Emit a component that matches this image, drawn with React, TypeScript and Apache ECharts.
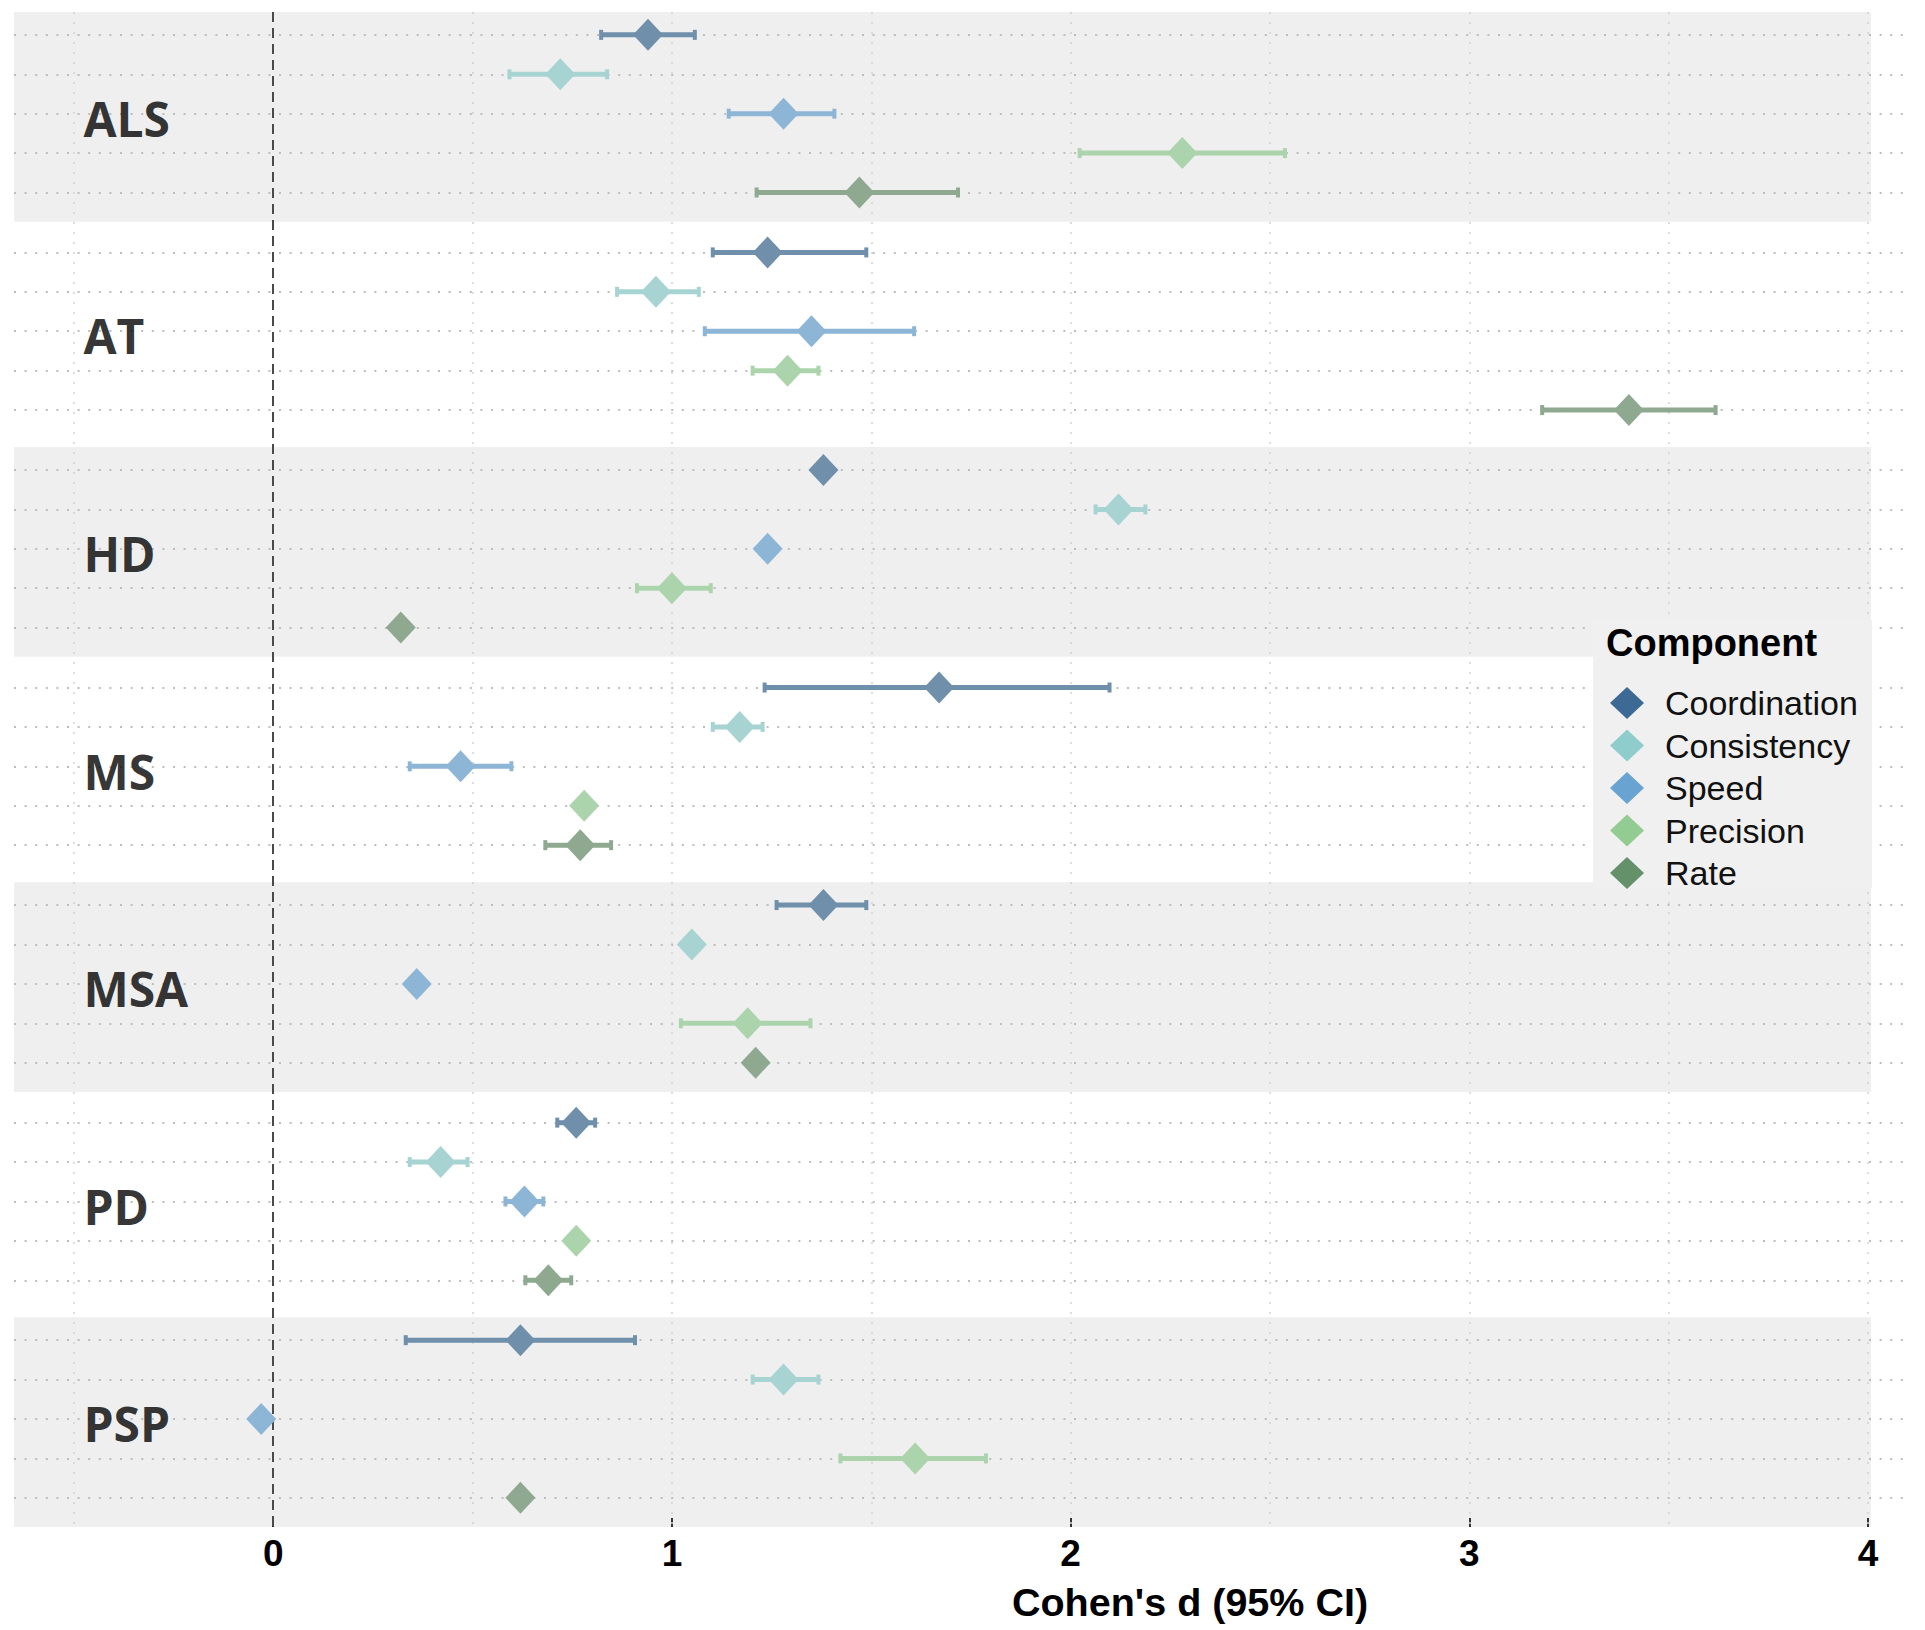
import React, { useEffect, useRef } from "react";
import * as echarts from "echarts";

// ---------- data ----------
const DISEASES = ["ALS", "AT", "HD", "MS", "MSA", "PD", "PSP"];
const COMPONENTS = ["Coordination", "Consistency", "Speed", "Precision", "Rate"];

// Cohen's d and 95% CI per component, one value per disease (order of DISEASES)
const coordinationD = [0.94, 1.24, 1.38, 1.67, 1.38, 0.76, 0.62];
const coordinationLo = [0.82, 1.1, null, 1.23, 1.26, 0.71, 0.33];
const coordinationHi = [1.06, 1.49, null, 2.1, 1.49, 0.81, 0.91];

const consistencyD = [0.72, 0.96, 2.12, 1.17, 1.05, 0.42, 1.28];
const consistencyLo = [0.59, 0.86, 2.06, 1.1, null, 0.34, 1.2];
const consistencyHi = [0.84, 1.07, 2.19, 1.23, null, 0.49, 1.37];

const speedD = [1.28, 1.35, 1.24, 0.47, 0.36, 0.63, -0.03];
const speedLo = [1.14, 1.08, null, 0.34, null, 0.58, null];
const speedHi = [1.41, 1.61, null, 0.6, null, 0.68, null];

const precisionD = [2.28, 1.29, 1.0, 0.78, 1.19, 0.76, 1.61];
const precisionLo = [2.02, 1.2, 0.91, null, 1.02, null, 1.42];
const precisionHi = [2.54, 1.37, 1.1, null, 1.35, null, 1.79];

const rateD = [1.47, 3.4, 0.32, 0.77, 1.21, 0.69, 0.62];
const rateLo = [1.21, 3.18, null, 0.68, null, 0.63, null];
const rateHi = [1.72, 3.62, null, 0.85, null, 0.75, null];

const X_TICKS = [0, 1, 2, 3, 4];
const X_GRID = [-0.5, 0.5, 1, 1.5, 2, 2.5, 3, 3.5, 4];

// ---------- styling / layout ----------
const MARK_COLORS = ["#6f8fab", "#a7d3d3", "#8db5d6", "#acd4ac", "#8ea98f"];
const LEGEND_COLORS = ["#3c6a94", "#8fcccc", "#69a3d1", "#92cc92", "#64906a"];
const GROUP_STEP = 5.52; // rows per facet panel incl. gap
const BAND_TOP = -0.58;
const BAND_BOTTOM = 4.74;
const X_MIN = -0.65;
const X_MAX = 4.095;
const BAND_RIGHT = 4.007;

const D_SERIES = [coordinationD, consistencyD, speedD, precisionD, rateD];
const LO_SERIES = [coordinationLo, consistencyLo, speedLo, precisionLo, rateLo];
const HI_SERIES = [coordinationHi, consistencyHi, speedHi, precisionHi, rateHi];

const rowY = (g: number, r: number) => g * GROUP_STEP + r;

export default function App() {
  const ref = useRef<HTMLDivElement>(null);

  useEffect(() => {
    if (!ref.current) return;
    const chart = echarts.init(ref.current, null, { renderer: "svg" });

    const bands: any[] = [];
    DISEASES.forEach((_, g) => {
      if (g % 2 === 0) {
        bands.push([
          { xAxis: X_MIN, yAxis: g * GROUP_STEP + BAND_TOP },
          { xAxis: BAND_RIGHT, yAxis: g * GROUP_STEP + BAND_BOTTOM },
        ]);
      }
    });

    const hLines: any[] = [];
    DISEASES.forEach((_, g) => {
      COMPONENTS.forEach((__, r) => {
        hLines.push({ yAxis: rowY(g, r) });
      });
    });
    const vLines: any[] = X_GRID.map((v) => ({ xAxis: v }));

    const series: any[] = [
      {
        type: "line",
        name: "_bands",
        data: [],
        silent: true,
        markArea: {
          silent: true,
          z: 0,
          itemStyle: { color: "#efefef" },
          data: bands,
        },
      },
      {
        type: "line",
        name: "_grid",
        data: [],
        silent: true,
        markLine: {
          silent: true,
          z: 1,
          symbol: ["none", "none"],
          label: { show: false },
          lineStyle: { color: "#bdbdbd", width: 2, type: [2, 8.6] },
          data: hLines,
        },
      },
      {
        type: "line",
        name: "_vgrid",
        data: [],
        silent: true,
        markLine: {
          silent: true,
          z: 1,
          symbol: ["none", "none"],
          label: { show: false },
          lineStyle: { color: "#d2d2d2", width: 1.5, type: [2, 8] },
          data: vLines,
        },
      },
      {
        type: "line",
        name: "_zero",
        data: [],
        silent: true,
        markLine: {
          silent: true,
          z: 1,
          symbol: ["none", "none"],
          label: { show: false },
          lineStyle: { color: "#4a4a4a", width: 2, type: [10, 6] },
          data: [{ xAxis: 0 }],
        },
      },
    ];

    COMPONENTS.forEach((comp, i) => {
      const errData: any[] = [];
      DISEASES.forEach((_, g) => {
        const lo = LO_SERIES[i][g];
        const hi = HI_SERIES[i][g];
        if (lo != null && hi != null) errData.push([lo, hi, rowY(g, i)]);
      });
      const color = MARK_COLORS[i];
      series.push({
        type: "custom",
        name: comp,
        z: 2,
        silent: true,
        encode: { x: [0, 1], y: 2 },
        data: errData,
        renderItem: (params: any, api: any) => {
          const p1 = api.coord([api.value(0), api.value(2)]);
          const p2 = api.coord([api.value(1), api.value(2)]);
          return {
            type: "group",
            children: [
              {
                type: "rect",
                shape: { x: p1[0], y: p1[1] - 2.5, width: p2[0] - p1[0], height: 5 },
                style: { fill: color },
              },
              {
                type: "rect",
                shape: { x: p1[0] - 1, y: p1[1] - 5, width: 4, height: 10 },
                style: { fill: color },
              },
              {
                type: "rect",
                shape: { x: p2[0] - 3, y: p2[1] - 5, width: 4, height: 10 },
                style: { fill: color },
              },
            ],
          };
        },
      });
      series.push({
        type: "scatter",
        name: comp,
        z: 3,
        symbol: "diamond",
        symbolSize: [30, 32],
        itemStyle: { color, opacity: 1 },
        data: DISEASES.map((_, g) => [D_SERIES[i][g], rowY(g, i)]),
      });
    });

    series.push({
      type: "scatter",
      name: "_labels",
      z: 4,
      silent: true,
      symbolSize: 0,
      itemStyle: { color: "transparent" },
      label: {
        show: true,
        position: "right",
        distance: 0,
        formatter: (p: any) => p.data[2],
        fontFamily: "'Open Sans', 'Noto Sans', sans-serif",
        fontWeight: "bold",
        fontSize: 48,
        color: "#000",
      },
      data: DISEASES.map((d, g) => [-0.476, rowY(g, 2) + 0.12, d]),
    });

    const option: any = {
      animation: false,
      backgroundColor: "#ffffff",
      grid: { left: 14, right: 19, top: 12, bottom: 103, containLabel: false },
      xAxis: {
        type: "value",
        position: "bottom",
        min: X_MIN,
        max: X_MAX,
        axisLine: { show: false, onZero: false },
        splitLine: { show: false },
        axisTick: {
          show: true,
          inside: true,
          length: 9,
          lineStyle: { color: "#333", width: 2 },
          customValues: X_TICKS,
        },
        axisLabel: {
          show: true,
          customValues: X_TICKS,
          margin: 8,
          fontSize: 37,
          fontWeight: "bold",
          color: "#000",
          fontFamily: "'Liberation Sans', Arial, sans-serif",
          formatter: (v: number) => (X_TICKS.indexOf(v) >= 0 ? String(v) : ""),
        },
      },
      yAxis: {
        type: "value",
        inverse: true,
        min: BAND_TOP,
        max: (DISEASES.length - 1) * GROUP_STEP + BAND_BOTTOM,
        show: false,
        splitLine: { show: false },
      },
      legend: {
        orient: "vertical",
        left: 1605,
        top: 681,
        z: 6,
        itemWidth: 34,
        itemHeight: 32,
        itemGap: 8.5,
        selectedMode: false,
        textStyle: {
          fontSize: 34,
          lineHeight: 32,
          color: "#111",
          fontFamily: "'Liberation Sans', Arial, sans-serif",
          padding: [0, 0, 0, 16],
        },
        data: COMPONENTS.map((c, i) => ({
          name: c,
          icon: "diamond",
          itemStyle: { color: LEGEND_COLORS[i], opacity: 1 },
        })),
      },
      graphic: [
        {
          type: "rect",
          z: 5,
          silent: true,
          shape: { x: 1593, y: 620, width: 279, height: 268 },
          style: { fill: "#f0f0f0" },
        },
        {
          type: "text",
          z: 6,
          x: 1606,
          y: 643,
          style: {
            text: "Component",
            fontSize: 38,
            fontWeight: "bold",
            fontFamily: "'Liberation Sans', Arial, sans-serif",
            fill: "#000",
            textAlign: "left",
            textVerticalAlign: "middle",
          },
        },
        {
          type: "text",
          z: 6,
          x: 1190,
          y: 1602,
          style: {
            text: "Cohen's d (95% CI)",
            fontSize: 39.5,
            fontWeight: "bold",
            fontFamily: "'Liberation Sans', Arial, sans-serif",
            fill: "#000",
            textAlign: "center",
            textVerticalAlign: "middle",
          },
        },
      ],
      series,
    };

    chart.setOption(option);
    return () => chart.dispose();
  }, []);

  return (
    <div
      ref={ref}
      style={{ position: "absolute", left: 0, top: 0, width: 1925, height: 1630 }}
    />
  );
}
